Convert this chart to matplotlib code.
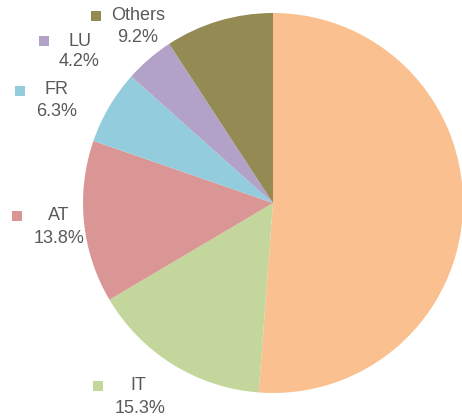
import matplotlib
matplotlib.use("Agg")
import matplotlib.pyplot as plt
from matplotlib.patches import Rectangle

# Data (clockwise from 12 o'clock)
categories = ["", "IT", "AT", "FR", "LU", "Others"]
values = [51.2, 15.3, 13.8, 6.3, 4.2, 9.2]
colors = ["#FAC090", "#C3D69B", "#D99694", "#93CDDD", "#B3A2C7", "#948A54"]

W, H = 462, 419
fig = plt.figure(figsize=(W / 100, H / 100), dpi=100)
fig.patch.set_facecolor("white")

cx, cy, r = 273, 203, 190
ax = fig.add_axes([(cx - r) / W, (H - cy - r) / H, 2 * r / W, 2 * r / H])
ax.pie(values, colors=colors, startangle=90, counterclock=False, radius=1,
       wedgeprops=dict(linewidth=0))
ax.set_xlim(-1, 1)
ax.set_ylim(-1, 1)
ax.set_aspect("equal")
ax.axis("off")

# label layout in pixels: (square x, square y, name x, name y, pct x, pct y)
layout = {
    "IT": (98, 386, 138, 385, 140, 408),
    "AT": (17, 216, 59, 215, 59, 238),
    "FR": (20, 91, 56, 90, 56.5, 112),
    "LU": (44, 41, 80, 41, 79, 62),
    "Others": (96, 16, 138, 16, 138, 38),
}
tc = "#595959"
fs = 13
for cat, val, col in zip(categories, values, colors):
    if cat not in layout:
        continue
    sx, sy, nx, ny, px, py = layout[cat]
    fig.patches.append(Rectangle(((sx - 5) / W, 1 - (sy + 5) / H), 10 / W, 10 / H,
                                 transform=fig.transFigure, facecolor=col,
                                 edgecolor="none"))
    fig.text(nx / W, 1 - ny / H, cat, ha="center", va="center", fontsize=fs,
             color=tc, family="Liberation Sans")
    fig.text(px / W, 1 - py / H, f"{val:.1f}%", ha="center", va="center",
             fontsize=fs, color=tc, family="Liberation Sans")

fig.savefig("out.png", dpi=100, facecolor="white")
